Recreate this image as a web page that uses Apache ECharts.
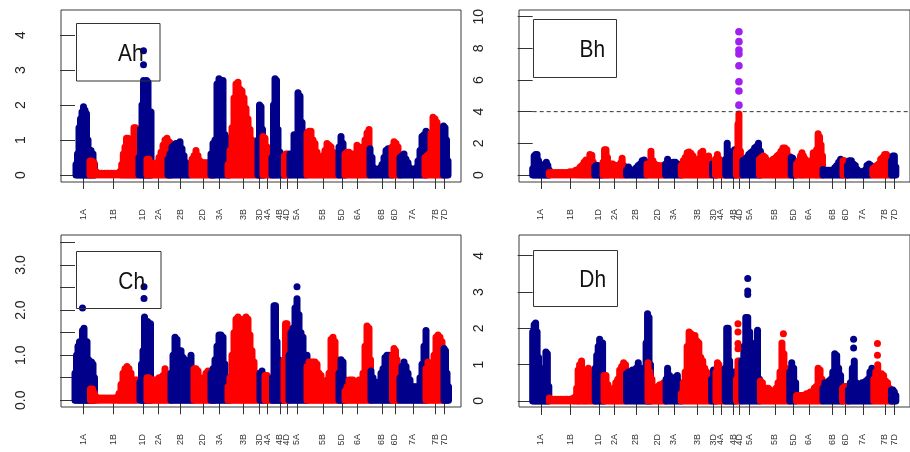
<!DOCTYPE html>
<html><head><meta charset="utf-8">
<script src="https://cdn.jsdelivr.net/npm/echarts@6/dist/echarts.min.js"></script>
<style>html,body{margin:0;padding:0;background:#fff}#c{width:910px;height:452px}</style>
</head><body><div id="c"></div>
<script>
// ---- chromosome labels and their centre positions (x units) ----
const chromNames = ['1A','1B','1D','2A','2B','2D','3A','3B','3D','4A','4B','4D','5A','5B','5D','6A','6B','6D','7A','7B','7D'];
const chromCenters = [8.3,38.7,67.8,83.3,105.7,128,144.4,168.2,184.7,192.5,205,211.8,222,247.8,267,282.5,306.8,320,337.8,360.2,369.7];

// ---- per-panel column tops [x, -log10 p] grouped by chromosome ----
const ahCols = [
 [[1,0.3],[2.5,0.6],[4,1.35],[5.5,1.6],[7,1.8],[8.5,1.95],[10,1.85],[11.5,1.75],[13,1.0],[14.5,0.7],[16,0.7],[18,0.6],[19.5,0.3]],
 [[15,0.4],[17,0.4],[19,0.35],[21,0.1],[24,0.05],[27,0.05],[30,0.05],[33,0.05],[36,0.05],[39,0.05],[42,0.05],[45,0.1],[46.7,0.3],[48.3,0.6],[50,0.8],[51.5,1.05],[53,1.05],[54.5,0.9],[56,0.45],[57.5,0.9],[59,1.35],[60.5,1.35],[62,1.1]],
 [[64,0.5],[65.5,1.3],[67,2.0],[68.5,2.7],[70,2.6],[71.5,2.7],[73,2.65],[74.5,1.8],[76,1.8]],
 [[72,0.45],[74,0.45],[76,0.35],[78,0.3],[80,0.3],[82,0.35],[84,0.5],[86,0.65],[88,0.85],[90,1.0],[92,1.05],[94,0.95],[96,0.9]],
 [[93,0.45],[95,0.6],[97,0.8],[99,0.85],[101,0.9],[103,0.9],[105,0.95],[107,0.75],[109,0.55],[111,0.35],[113,0.25],[115,0.2]],
 [[117,0.45],[119,0.55],[121,0.7],[123,0.55],[125,0.4],[127,0.35],[129,0.35],[131,0.35],[133,0.35],[135,0.35],[137,0.3],[139,0.3]],
 [[136,0.6],[138,0.9],[140,1.0],[142,2.6],[144,2.75],[146,2.7],[148,2.7],[150,1.15],[152,1.05],[154,1.0]],
 [[153,0.3],[155,0.7],[157,1.35],[159,2.2],[161,2.6],[163,2.65],[165,2.45],[167,2.4],[169,2.2],[171,1.9],[173,1.6],[175,1.3],[177,1.0],[179,0.8],[181,0.55],[183,0.45],[185,0.3]],
 [[183,1.0],[184.5,2.0],[186,1.95],[187.5,1.3],[189,0.5]],
 [[188,1.1],[190,1.05],[192,0.8],[194,0.6],[196,0.5]],
 [[197,0.5],[198.5,2.0],[200,2.75],[201.5,2.7],[203,1.3],[205,0.65],[207,0.55],[209,0.5]],
 [[209.5,0.55],[211,0.6],[212.5,0.6],[214,0.5]],
 [[215,0.6],[217,0.6],[219,1.15],[221,1.1],[223,2.35],[225,2.25],[227,1.5],[229,1.2],[231,0.6]],
 [[232,1.2],[234,1.25],[236,1.25],[238,1.0],[240,0.9],[242,0.65],[244,0.5],[246,0.4],[248,0.55],[250,0.7],[252,0.9],[254,0.85],[256,0.8],[258,0.65],[260,0.55],[262,0.45],[264,0.35]],
 [[264,0.8],[266,1.1],[268,0.9],[270,0.5]],
 [[270,0.6],[272,0.65],[274,0.65],[276,0.6],[278,0.6],[280,0.55],[282,0.85],[284,0.8],[286,0.7],[288,0.8],[290,1.0],[292,1.2],[294,1.3]],
 [[295,0.75],[297,0.5],[299,0.2],[301,0.15],[303,0.15],[305,0.2],[307,0.3],[309,0.5],[311,0.7],[313,0.75],[315,0.75],[317,0.5]],
 [[317,0.8],[319,0.95],[321,0.9],[323,0.8],[325,0.5]],
 [[325,0.5],[327,0.55],[329,0.6],[331,0.45],[333,0.35],[335,0.2],[337,0.15],[339,0.15],[341,0.2],[343,0.4],[345,0.7],[347,1.1],[349,1.15],[351,1.25]],
 [[350,0.5],[352,0.55],[354,0.6],[356,1.2],[358,1.65],[360,1.6],[362,1.5],[364,1.3],[366,1.0],[368,0.5]],
 [[368.5,1.4],[370,1.35],[371.5,1.0],[373,0.4]]
];
const ahDots = [[68.5,3.55,2],[68.5,3.15,2]];

const bhCols = [
 [[0,0.4],[1.5,1.2],[3,1.3],[4.5,1.3],[6,0.9],[7.5,0.4],[9,0.25],[11,0.3],[12.5,0.7],[14,0.8],[15.5,0.6],[17,0.3]],
 [[17,0.15],[20,0.15],[23,0.15],[26,0.15],[29,0.15],[32,0.15],[35,0.15],[38,0.2],[41,0.2],[44,0.3],[46.5,0.35],[48.5,0.5],[50.5,0.6],[52.5,0.8],[54.5,0.95],[56.5,0.9],[58.5,1.3],[60.5,1.25],[62,0.8]],
 [[63.5,0.5],[65,0.6],[66.5,0.6],[68,0.55],[69.5,0.5],[71,0.4]],
 [[72,0.8],[73.5,1.6],[75,1.6],[76.5,1.1],[78,0.7],[80,0.7],[82,0.7],[84,0.55],[86,0.6],[88,0.6],[90,0.75],[91.5,1.05],[93,0.6],[95,0.5]],
 [[96,0.3],[98,0.5],[100,0.35],[102,0.3],[104,0.3],[106,0.45],[108,0.6],[110,0.7],[112,0.9],[114,0.95],[116,0.8]],
 [[117,0.7],[119,0.7],[121,1.5],[123,0.9],[125,0.7],[127,0.6],[129,0.6],[131,0.55],[133,0.6],[135,0.6]],
 [[136,0.7],[138,1.0],[140,0.8],[142,0.7],[144,0.8],[146,0.8],[148,0.7],[150,0.65],[152,0.5]],
 [[152,0.6],[154,0.9],[156,1.1],[158,1.4],[160,1.45],[162,1.35],[164,1.2],[166,1.0],[168,0.8],[170,1.0],[172,1.4],[174,1.5],[176,1.0],[178,1.0],[180,1.2],[182,0.8]],
 [[184,0.7],[186,0.6],[188,0.5]],
 [[187,1.0],[189,1.3],[191,1.0],[193,0.9],[195,0.6],[197,0.4]],
 [[197.5,1.0],[199,2.0],[200.5,1.5],[202,1.2],[203.5,1.0],[205,1.4],[206.5,1.6],[208,0.8]],
 [[208.5,1.5],[210,3.2],[211,3.85],[212.5,1.5],[214,0.5]],
 [[215,0.9],[217,1.0],[219,1.1],[221,1.3],[223,1.4],[225,1.5],[227,1.7],[229,1.8],[231,2.0],[233,1.5]],
 [[232,1.0],[234,1.1],[236,1.2],[238,1.1],[240,0.9],[242,0.8],[244,0.9],[246,1.0],[248,1.05],[250,1.2],[252,1.3],[254,1.5],[256,1.7],[258,1.7],[260,1.6],[262,1.2],[264,0.9]],
 [[264.5,1.1],[266,1.05],[267.5,0.7],[269,0.5]],
 [[270,0.7],[272,0.9],[274,1.2],[275.5,1.4],[277,1.2],[279,1.0],[281,0.8],[283,0.7],[285,0.9],[287,1.4],[289,1.1],[290.5,1.6],[292,2.6],[293.5,2.4],[295,1.9],[296.5,1.2]],
 [[297,0.35],[299,0.3],[301,0.3],[303,0.3],[305,0.3],[307,0.3],[309,0.45],[311,0.6],[313,0.8],[315,1.0],[317,0.9]],
 [[317.5,0.9],[319,0.9],[320.5,0.8],[322,0.4]],
 [[322,0.6],[324,0.9],[326,0.9],[328,0.7],[330,0.6],[332,0.35],[334,0.2],[336,0.2],[338,0.2],[340,0.3],[342,0.6],[344,0.7],[346,0.6]],
 [[348,0.4],[350,0.5],[352,0.6],[354,0.7],[356,1.0],[358,1.1],[360,1.3],[362,1.3],[364,0.9],[366,0.5]],
 [[367,0.9],[368.5,1.2],[370,1.2],[371.5,0.5]]
];
const bhDots = [];
const bhSignificant = [[211,4.41],[211,5.3],[211,5.89],[211,6.9],[211,7.64],[211,7.89],[211,8.42],[211,9.05]];
const bhThreshold = 4;

const chCols = [
 [[0,0.6],[1.5,1.0],[3,1.2],[4.5,1.3],[6,1.25],[7.5,1.55],[9,1.6],[10.5,1.3],[12,1.3],[13.5,0.9],[15,0.85],[16.5,0.85],[18,0.8],[19.5,0.5]],
 [[15.5,0.25],[17.5,0.25],[19.5,0.15],[21.5,0.07],[24,0.05],[27,0.05],[30,0.05],[33,0.05],[36,0.05],[39,0.05],[42,0.07],[44,0.15],[46,0.35],[48,0.6],[50,0.7],[52,0.75],[54,0.7],[56,0.6],[58,0.45],[60,0.45],[62,0.45]],
 [[65,0.4],[66.5,0.8],[68,1.1],[69.5,1.85],[71,1.75],[72.5,1.75],[74,1.7],[75.5,1.7]],
 [[72,0.5],[74,0.5],[76,0.45],[78,0.45],[80,0.45],[82,0.45],[84,0.5],[86,0.5],[88,0.55],[90,0.7],[92,0.55],[94,0.5],[96,0.5]],
 [[96,0.6],[98,1.0],[100,1.4],[102,1.35],[104,1.1],[106,1.1],[108,0.95],[110,0.9],[112,0.5],[114,0.8],[116,1.0],[118,0.6]],
 [[119,0.7],[121,0.7],[123,0.65],[125,0.5],[127,0.45],[129,0.5],[131,0.6],[133,0.65],[135,0.6],[137,0.6],[139,0.5]],
 [[136,0.6],[138,0.7],[140,0.9],[142,1.2],[144,1.45],[146,1.45],[148,1.4],[150,0.8],[152,0.5],[154,0.45]],
 [[153,0.3],[155,0.5],[157,1.0],[159,1.5],[161,1.8],[163,1.85],[165,1.8],[167,1.75],[169,1.8],[171,1.85],[173,1.8],[175,1.45],[177,1.1],[179,0.85],[181,0.6],[183,0.35]],
 [[185,0.6],[187,0.65],[189,0.5],[191,0.35]],
 [[190,0.55],[192,0.55],[194,0.5],[196,0.45],[198,0.3]],
 [[197.5,0.5],[199,2.1],[200.5,2.1],[202,1.3],[203.5,0.9],[205,0.7],[206.5,0.5],[208,0.3]],
 [[209,0.9],[210.5,1.7],[212,1.7],[213.5,0.6]],
 [[214,1.0],[216,1.5],[218,1.6],[220,2.05],[222,2.25],[224,1.9],[226,1.5],[228,1.4],[230,1.0],[232,1.0]],
 [[232,0.75],[234,0.85],[236,0.85],[238,0.85],[240,0.85],[242,0.8],[244,0.6],[246,0.55],[248,0.35],[250,0.3],[252,0.45],[254,0.6],[256,1.35],[258,1.4],[260,1.3],[262,0.9],[264,0.5]],
 [[264,0.6],[266,0.9],[268,0.85],[270,0.45]],
 [[270,0.2],[272,0.3],[274,0.45],[276,0.45],[278,0.45],[280,0.4],[282,0.4],[284,0.45],[286,0.45],[288,0.6],[290,1.2],[292,1.65],[294,1.6],[295.5,0.9]],
 [[296,0.65],[298,0.5],[300,0.4],[302,0.4],[304,0.4],[306,0.6],[308,0.7],[310,0.95],[312,1.0],[314,1.0],[316,0.8]],
 [[317.5,1.0],[319,1.15],[320.5,1.1],[322,0.9],[323.5,0.5]],
 [[325,0.5],[327,0.75],[329,0.85],[331,0.75],[333,0.6],[335,0.45],[337,0.3],[339,0.3],[341,0.3],[343,0.3],[345,0.5],[347,0.8],[349,1.2],[351,1.55]],
 [[351,0.7],[353,0.85],[355,0.8],[357,0.75],[359,1.0],[361,1.4],[363,1.45],[365,1.4],[367,1.3],[369,0.6]],
 [[369,1.15],[370.5,1.1],[372,0.6],[373.5,0.3]]
];
const chDots = [[7.5,2.05,0],[69,2.52,2],[69,2.26,2],[222,2.52,12]];

const dhCols = [
 [[0,1.9],[1.5,2.1],[3,2.15],[4.5,1.9],[6,1.2],[7.5,0.9],[9,0.6],[10.5,0.5],[12,0.9],[13.5,1.35],[15,1.3],[16.5,0.4]],
 [[17,0.08],[20,0.05],[23,0.05],[26,0.05],[29,0.05],[32,0.05],[35,0.05],[38,0.05],[41,0.07],[43,0.1],[45,0.35],[46.5,0.85],[48,1.0],[50,1.1],[52,0.85],[53.5,0.7],[55,0.8],[57,0.9],[59,0.75],[61,0.5],[63,0.45]],
 [[64,0.9],[65.5,1.25],[67,1.5],[68.5,1.7],[70,1.6],[71.5,1.6],[73,0.7]],
 [[73,0.7],[75,0.7],[77,0.45],[79,0.3],[81,0.3],[83,0.35],[85,0.5],[87,0.6],[89,0.85],[91,0.95],[93,1.05],[95,1.0]],
 [[96,0.75],[98,0.8],[100,0.75],[102,0.85],[104,0.8],[106,0.9],[108,1.05],[110,0.9],[112,0.6],[114,0.9],[116,1.6],[117.5,2.4],[119,2.3],[120.5,1.0]],
 [[118,1.05],[120,0.8],[122,0.6],[124,0.35],[126,0.35],[128,0.4],[130,0.45],[132,0.45],[134,0.5],[136,0.45]],
 [[136.5,0.6],[138,0.9],[140,0.7],[142,0.6],[144,0.55],[146,0.65],[148,0.7],[150,0.5],[152,0.3]],
 [[152,0.2],[154,0.5],[156,0.8],[158,1.5],[160,1.9],[162,1.85],[164,1.8],[166,1.8],[168,1.65],[170,1.6],[172,1.2],[174,1.1],[176,0.9],[178,0.8],[180,0.6],[182,0.4]],
 [[183,0.6],[185,0.85],[187,0.7]],
 [[187.5,0.8],[189,1.05],[190.5,1.0],[192,0.7],[194,0.5],[196,0.4]],
 [[197,0.9],[198.5,2.0],[200,2.0],[201.5,1.1],[203,0.8],[204.5,0.75],[206,0.8],[207.5,0.5]],
 [[208.5,0.6],[210,1.1],[211.5,1.1],[213,0.7]],
 [[214,1.1],[216,1.5],[218,2.3],[220,2.3],[222,1.9],[224,1.2],[226,1.0],[228,1.6],[230,1.95],[232,0.6]],
 [[233,0.55],[235,0.5],[237,0.35],[239,0.35],[241,0.35],[243,0.3],[245,0.2],[247,0.2],[249,0.35],[251,0.5],[253,0.8],[255,1.6],[257,1.3],[259,0.9],[261,0.6],[263,0.4]],
 [[263,0.8],[265,1.05],[267,0.9],[269,0.5]],
 [[270,0.15],[272,0.15],[274,0.15],[276,0.15],[278,0.15],[280,0.2],[282,0.2],[284,0.25],[286,0.25],[288,0.35],[290,0.4],[292,0.9],[294,0.85],[296,0.6]],
 [[297,0.35],[299,0.5],[301,0.45],[303,0.55],[305,0.6],[307,0.8],[309,1.3],[311,1.25],[313,0.9],[315,0.7],[317,0.4]],
 [[317,0.35],[319,0.4],[321,0.4],[323,0.3]],
 [[323,0.3],[325,0.5],[327,0.9],[329,1.1],[331,0.5],[333,0.45],[335,0.45],[337,0.5],[339,0.5],[341,0.55],[343,0.6],[345,0.8],[347,0.9]],
 [[349,0.6],[351,0.8],[353,1.0],[355,0.7],[357,0.75],[359,0.7],[361,0.55],[363,0.5],[365,0.35],[367,0.25]],
 [[367,0.3],[368.5,0.3],[370,0.25],[371.5,0.15]]
];
const dhDots = [[210,2.13,11],[210,1.9,11],[210,1.58,11],[210,1.44,11],[220,3.37,12],[220,3.03,12],[220,2.93,12],[256.5,1.85,13],[328.3,1.7,18],[328.3,1.46,18],[352.7,1.58,19],[352.7,1.26,19]];

// ---- y-axis ticks / labels per panel ----
const ahYTicks = [0,1,2,3,4];
const bhYTicks = [0,2,4,6,8,10];
const chYTicks = [0,0.5,1,1.5,2,2.5,3,3.5];
const chYLabels = [0,1,2,3];
const dhYTicks = [0,1,2,3,4];
const panelTitles = ['Ah','Bh','Ch','Dh'];

// ---- styling ----
const BLUE = '#00008B', RED = '#FF0000', PURPLE = '#A020F0';
const DOT_R = 3.5;
const FONT = '"Liberation Sans", Arial, Helvetica, sans-serif';
const AXC = '#333';

const panels = [
  {cols: ahCols, dots: ahDots, grid: {left: 61, top: 10}, yMin: -0.2, yMax: 4.716, yTicks: ahYTicks, yLabels: ahYTicks, fmt: v => String(v), box: [76.5, 23.5, 83.5, 57.5], text: [143.5, 54.5]},
  {cols: bhCols, dots: bhDots, grid: {left: 519, top: 10}, yMin: -0.443, yMax: 10.42, yTicks: bhYTicks, yLabels: bhYTicks, fmt: v => String(v), box: [533.5, 19.5, 83, 58], text: [605, 50]},
  {cols: chCols, dots: chDots, grid: {left: 61, top: 235}, yMin: -0.149, yMax: 3.667, yTicks: chYTicks, yLabels: chYLabels, fmt: v => v.toFixed(1), box: [76.5, 251.5, 84.5, 57], text: [145, 282]},
  {cols: dhCols, dots: dhDots, grid: {left: 519, top: 235}, yMin: -0.166, yMax: 4.571, yTicks: dhYTicks, yLabels: dhYTicks, fmt: v => String(v), box: [533.5, 250.5, 84, 56], text: [606, 280]}
];

const grids = [], xAxes = [], yAxes = [], series = [], graphics = [];
panels.forEach((p, i) => {
  grids.push({left: p.grid.left, top: p.grid.top, width: 400, height: 172, show: true, borderColor: '#3a3a3a', borderWidth: 1, backgroundColor: 'transparent'});
  xAxes.push({
    type: 'value', gridIndex: i, min: -14, max: 386,
    axisLine: {show: false}, splitLine: {show: false},
    axisTick: {show: true, length: 14, customValues: chromCenters, lineStyle: {color: AXC, width: 1}},
    axisLabel: {show: true, customValues: chromCenters, hideOverlap: false, showMinLabel: true, showMaxLabel: true, rotate: 90, margin: 27, fontSize: 9, color: '#333', fontFamily: FONT,
      formatter: v => { let k = 0, best = 1e9; chromCenters.forEach((c, j) => { const d = Math.abs(c - v); if (d < best) { best = d; k = j; } }); return chromNames[k]; }}
  });
  yAxes.push({
    type: 'value', gridIndex: i, min: p.yMin, max: p.yMax,
    axisLine: {show: false}, splitLine: {show: false},
    axisTick: {show: true, length: 15, customValues: p.yTicks, lineStyle: {color: AXC, width: 1}},
    axisLabel: {show: true, customValues: p.yLabels, rotate: 90, margin: 33, fontSize: 14, color: '#222', fontFamily: FONT, formatter: p.fmt}
  });
  const colData = [];
  p.cols.forEach((arr, ci) => arr.forEach(d => colData.push([d[0], d[1], ci])));
  series.push({
    type: 'custom', xAxisIndex: i, yAxisIndex: i, data: colData, encode: {x: 0, y: 1}, silent: true, animation: false,
    renderItem: (params, api) => {
      const x = api.value(0), hi = api.value(1), ci = api.value(2);
      const top = api.coord([x, hi]);
      const bot = api.coord([x, 0]);
      return {type: 'rect', shape: {x: top[0] - DOT_R, y: top[1] - DOT_R, width: 2 * DOT_R, height: bot[1] - top[1] + 2 * DOT_R, r: DOT_R}, style: {fill: ci % 2 === 0 ? BLUE : RED}};
    }
  });
  if (p.dots.length) {
    series.push({
      type: 'scatter', xAxisIndex: i, yAxisIndex: i, data: p.dots, symbol: 'circle', symbolSize: 2 * DOT_R, silent: true, animation: false,
      itemStyle: {opacity: 1, color: params => (params.data[2] % 2 === 0 ? BLUE : RED)}
    });
  }
  graphics.push({type: 'rect', z: 100, shape: {x: p.box[0], y: p.box[1], width: p.box[2], height: p.box[3]}, style: {fill: 'none', stroke: '#333', lineWidth: 1}});
  graphics.push({type: 'text', z: 100, x: p.text[0], y: p.text[1], scaleX: 0.87, style: {text: panelTitles[i], fontSize: 24, fontFamily: FONT, fill: '#111', align: 'right', verticalAlign: 'middle'}});
});
series.push({type: 'scatter', xAxisIndex: 1, yAxisIndex: 1, data: bhSignificant, symbol: 'circle', symbolSize: 2 * DOT_R + 0.6, silent: true, animation: false, itemStyle: {opacity: 1, color: PURPLE}});
series.push({type: 'line', xAxisIndex: 1, yAxisIndex: 1, data: [[0, bhThreshold], [386, bhThreshold]], symbol: 'none', silent: true, animation: false, lineStyle: {color: '#333', width: 1, type: [4, 3]}});

const chart = echarts.init(document.getElementById('c'), null, {renderer: 'canvas'});
chart.setOption({animation: false, grid: grids, xAxis: xAxes, yAxis: yAxes, series: series, graphic: graphics});
</script>
</body></html>
